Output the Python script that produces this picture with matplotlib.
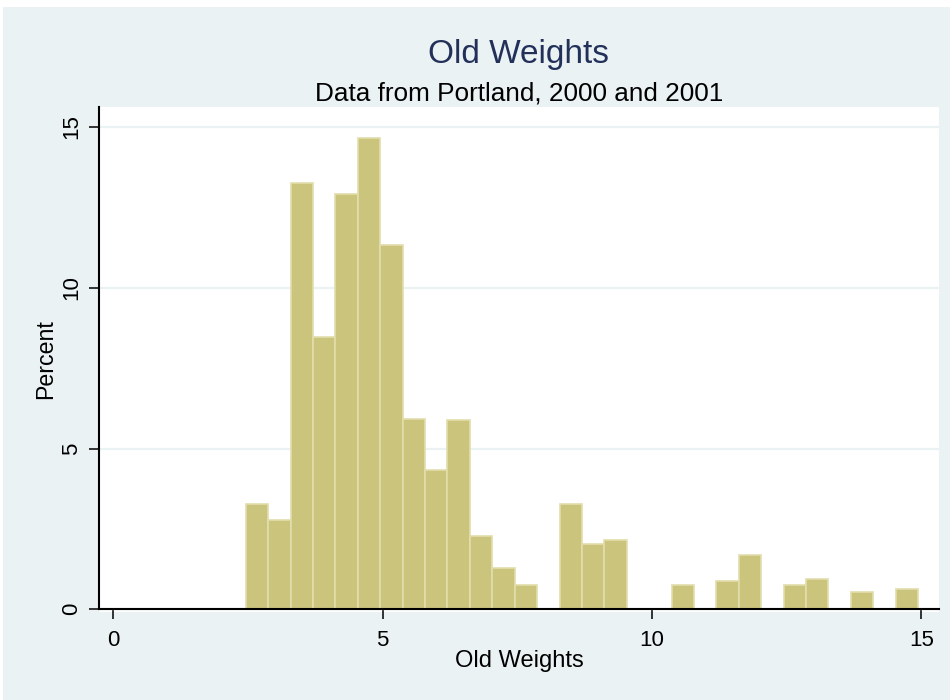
import numpy as np
import matplotlib
matplotlib.use('Agg')
import matplotlib.pyplot as plt
from matplotlib.patches import Rectangle

plt.rcParams['font.family'] = ['Liberation Sans', 'DejaVu Sans']

# histogram: 30 bins starting at 2.46, width ~0.416
bin_start = 2.46
bin_width = 0.416
percent = [3.26, 2.79, 13.27, 8.47, 12.93, 14.67, 11.34, 5.93, 4.34, 5.88,
           2.27, 1.27, 0.75, 0.0, 3.27, 2.02, 2.15, 0.0, 0.0, 0.75,
           0.0, 0.87, 1.68, 0.0, 0.75, 0.93, 0.0, 0.54, 0.0, 0.62]
xticks = [0, 5, 10, 15]
yticks = [0, 5, 10, 15]

title = 'Old Weights'
subtitle = 'Data from Portland, 2000 and 2001'
xlab = 'Old Weights'
ylab = 'Percent'

bg = '#EAF2F3'
fig = plt.figure(figsize=(9.5, 7), dpi=100, facecolor='white')
# stata-ish graph region (thin white strip top/left)
fig.patches.append(Rectangle((3/950, 0), 1, 1 - 7/700, transform=fig.transFigure,
                             facecolor=bg, edgecolor='none', zorder=-10))

ax = fig.add_axes([99/950, 1 - 612/700, 840/950, 505/700])
ax.set_facecolor('white')

edges = bin_start + bin_width * np.arange(len(percent))
ax.bar(edges, percent, width=bin_width, align='edge', color='#CBC47D',
       edgecolor='#E2DDAB', linewidth=1.2, zorder=2)

ax.set_xlim(-0.266, 15.33)
ax.set_ylim(-0.084, 15.62)
ax.set_xticks(xticks)
ax.set_yticks(yticks)
ax.grid(axis='y', color=bg, linewidth=1.6, zorder=0)
ax.set_axisbelow(True)

for s in ['top', 'right']:
    ax.spines[s].set_visible(False)
ax.spines['bottom'].set_position(('data', 0))
ax.spines['left'].set_bounds(0, 15.62)
for s in ['bottom', 'left']:
    ax.spines[s].set_linewidth(1.5)
    ax.spines[s].set_zorder(3)

ax.tick_params(axis='both', length=7, width=1.1, labelsize=16, direction='out')
ax.tick_params(axis='x', pad=8)
ax.tick_params(axis='y', pad=5)
for lbl in ax.get_yticklabels():
    lbl.set_rotation(90)
    lbl.set_va('center')

ax.set_xlabel(xlab, fontsize=17)
ax.xaxis.set_label_coords(0.5, -0.076)
ax.set_ylabel(ylab, fontsize=16.7)
ax.yaxis.set_label_coords(-0.05, 0.5)

fig.text(519/950, 1 - 62.7/700, title, ha='center', va='baseline',
         fontsize=24, color='#22305A')
fig.text(519/950, 1 - 101/700, subtitle, ha='center', va='baseline',
         fontsize=18.8, color='black')

fig.savefig('out.png', dpi=100, facecolor=fig.get_facecolor())
